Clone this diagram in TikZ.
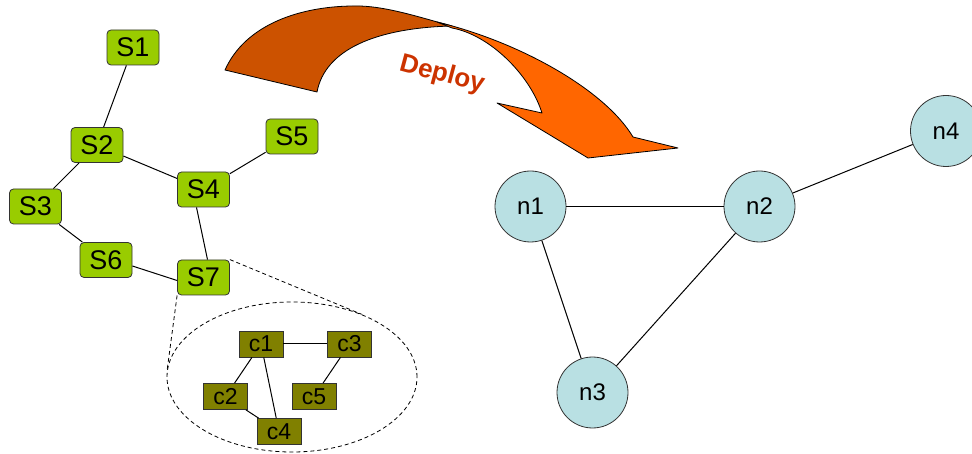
\documentclass[tikz,border=0pt]{standalone}
\usepackage{fontspec}
\setmainfont{Liberation Sans}
\usepackage{tikz}
\usetikzlibrary{shapes.geometric}

\definecolor{servicegreen}{RGB}{153,204,0}
\definecolor{compolive}{RGB}{128,128,0}
\definecolor{hostcyan}{RGB}{185,224,227}
\definecolor{arrowback}{RGB}{204,82,0}
\definecolor{arrowfront}{RGB}{255,102,0}
\definecolor{deployred}{RGB}{204,51,0}

\begin{document}
\begin{tikzpicture}[
  x=1pt, y=-1pt,
  service/.style={
    draw=black!80, line width=0.8pt, fill=servicegreen, rounded corners=4pt,
    minimum width=52pt, minimum height=35pt, inner sep=0pt,
    font=\fontsize{27}{27}\selectfont
  },
  comp/.style={
    draw=black!80, line width=0.8pt, fill=compolive,
    minimum width=44pt, minimum height=26pt, inner sep=0pt,
    font=\fontsize{23}{23}\selectfont
  },
  host/.style={
    circle, draw=black!80, line width=0.8pt, fill=hostcyan,
    minimum size=71pt, inner sep=0pt,
    font=\fontsize{24}{24}\selectfont
  },
  link/.style={line width=1pt},
  zoomline/.style={line width=0.8pt, dash pattern=on 4pt off 3pt}
  ]
  \clip (0,0) rectangle (972,454);

  % services
  \node [service] (S1) at (133,47.5) {S1};
  \node [service] (S2) at (97,145) {S2};
  \node [service] (S3) at (35.5,206.5) {S3};
  \node [service] (S4) at (203.5,189.5) {S4};
  \node [service] (S5) at (292,136.5) {S5};
  \node [service] (S6) at (106,260) {S6};
  \node [service] (S7) at (203.5,277.5) {S7};

  \draw [link] (S1) -- (S2);
  \draw [link] (S2) -- (S3);
  \draw [link] (S2) -- (S4);
  \draw [link] (S4) -- (S5);
  \draw [link] ([xshift=-7pt]S4.south) -- ([xshift=4pt]S7.north);
  \draw [link] (S3) -- (S6);
  \draw [link] ([yshift=-6pt]S6.east) -- ([yshift=-3pt]S7.west);

  % inside of S7
  \node [ellipse, draw, zoomline, minimum width=250pt, minimum height=150pt,
    inner sep=0pt] (inner) at (292,377) {};
  \draw [zoomline] (S7.north east) -- (inner.42.2);
  \draw [zoomline] (S7.south west) -- (inner.177.4);

  \node [comp] (c1) at (261,344) {c1};
  \node [comp] (c3) at (349.5,344) {c3};
  \node [comp] (c2) at (225.5,396.5) {c2};
  \node [comp] (c5) at (314,396.5) {c5};
  \node [comp] (c4) at (279,431.5) {c4};

  \draw [link] (c1) -- (c3);
  \draw [link] (c1) -- (c2);
  \draw [link] (c1) -- (c4);
  \draw [link] (c2) -- (c4);
  \draw [link] (c3) -- (c5);

  % curved arrow, back face then front face
  \draw [fill=arrowback, line width=0.8pt, line join=round]
    (225,70) .. controls (245,25) and (300,5) .. (360,6)
    .. controls (390,7) and (425,19) .. (452,26)
    .. controls (375,28) and (325,50) .. (317,92) -- cycle;
  \draw [fill=arrowfront, line width=0.8pt, line join=round]
    (437,22) .. controls (520,42) and (605,90) .. (633,137)
    -- (678,148) -- (588,158) -- (497,103) -- (542,113)
    .. controls (530,75) and (490,35) .. (452,28) -- cycle;
  \node [rotate=-15, text=deployred, font=\bfseries\fontsize{26}{26}\selectfont]
    (deploy) at (442,75) {Deploy};

  % hosts
  \node [host] (n1) at (530.5,206.5) {n1};
  \node [host] (n2) at (759.5,206.5) {n2};
  \node [host] (n3) at (592.5,392.5) {n3};
  \node [host] (n4) at (946,131) {n4};

  \draw [link] (n1) -- (n2);
  \draw [link] (n1) -- (n3);
  \draw [link] (n2) -- (n3);
  \draw [link] (n2) -- (n4);
\end{tikzpicture}
\end{document}
